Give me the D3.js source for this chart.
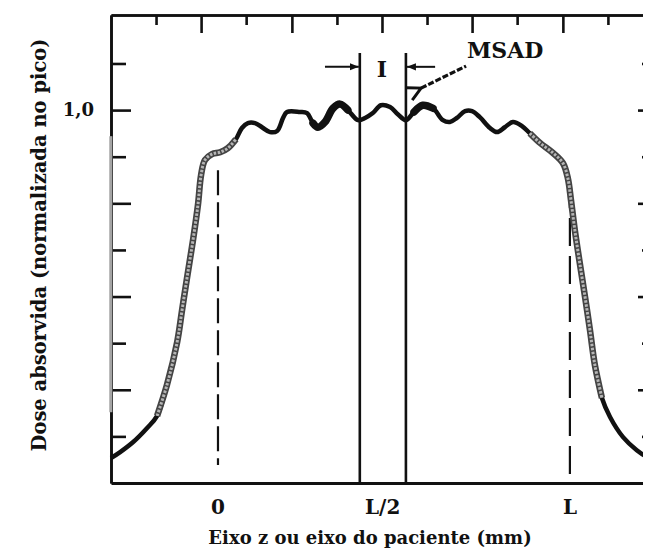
<!DOCTYPE html>
<html>
<head>
<meta charset="utf-8">
<script src="https://cdn.jsdelivr.net/npm/d3@7"></script>
<style>
  html, body { margin: 0; padding: 0; background: #fff; overflow: hidden; width: 647px; height: 549px; }
  svg { display: block; overflow: hidden; }
  text { font-family: "DejaVu Serif", "Liberation Serif", serif; font-weight: bold; fill: #111; }
</style>
</head>
<body>
<svg id="chart" width="647" height="549" viewBox="0 0 647 549"></svg>
<script>
// Position along the patient axis (0 = start of scan, 100 = L)
const posZ = [-30.4, -27.8, -24.1, -20.2, -17.3, -14.5, -11.6, -10.2, -8.8, -7.1,
  -5.7, -4.8, -3.7, -1.7, 0.6, 2.8, 5.1, 6.8, 8.5, 10.5,
  12.5, 14.8, 16.8, 18.5, 19.6, 23.3, 25.3, 27.0, 28.4, 30.4,
  32.7, 34.7, 36.9, 39.8, 41.8, 44.0, 46.3, 48.9, 51.1, 53.4,
  55.7, 58.2, 61.1, 63.9, 65.9, 67.9, 70.2, 72.2, 74.4, 77.3,
  79.3, 81.5, 83.8, 86.4, 88.6, 91.5, 95.2, 98.0, 99.4, 100.3,
  101.4, 102.8, 104.3, 105.7, 107.1, 109.1, 111.4, 115.1, 119.0, 121.9, 125.6];
// Absorbed dose normalised to the peak
const dose = [0.067, 0.083, 0.110, 0.147, 0.180, 0.263, 0.378, 0.464, 0.550, 0.651,
  0.745, 0.826, 0.866, 0.882, 0.887, 0.898, 0.922, 0.952, 0.965, 0.965,
  0.954, 0.941, 0.944, 0.979, 0.995, 0.995, 0.992, 0.965, 0.954, 0.968,
  1.005, 1.016, 1.000, 0.973, 0.979, 0.992, 1.013, 1.008, 0.989, 0.973,
  0.995, 1.013, 1.005, 0.973, 0.968, 0.979, 0.997, 0.997, 0.981, 0.952,
  0.941, 0.954, 0.968, 0.957, 0.938, 0.912, 0.885, 0.858, 0.818, 0.759,
  0.678, 0.590, 0.499, 0.410, 0.316, 0.228, 0.177, 0.123, 0.088, 0.070, 0.059];

// Axis ticks
const doseMajorTicks = [1.0, 0.75, 0.5, 0.25];
const doseMinorTicks = [1.125, 0.875, 0.625, 0.375, 0.125];
const zMajorTicks = [-4.8, 21.0, 46.6, 72.2, 98.0];
const zMinorTicks = [-17.6, 8.0, 33.8, 59.4, 85.0, 110.8];
const zTickValues = [0, 46.8, 100];
const zTickLabels = ["0", "L/2", "L"];
const doseTickValues = [1.0];
const doseTickLabels = ["1,0"];

// Annotations: interval I around L/2 and the MSAD pointer
const intervalEdges = [40.3, 53.4];
const scanLimits = [0, 100];
const heavyStretches = [[26, 37.5], [55, 62]];
const fadedStretches = [[-17.4, 5.5], [88.3, 109.5]];

const W = 647, H = 549;
const svg = d3.select("#chart");
const x = d3.scaleLinear().domain([-30.4, 125.6]).range([111, 660]);
const y = d3.scaleLinear().domain([0, 1.255]).range([483, 15]);

const defs = svg.append("defs");
defs.append("clipPath").attr("id", "page")
  .append("rect").attr("x", 0).attr("y", 0).attr("width", W).attr("height", H);
defs.append("marker").attr("id", "headFill")
  .attr("viewBox", "0 0 10 10").attr("refX", 10).attr("refY", 5)
  .attr("markerWidth", 9).attr("markerHeight", 9).attr("markerUnits", "userSpaceOnUse")
  .attr("orient", "auto")
  .append("path").attr("d", "M0,1 L10,5 L0,9 Z").attr("fill", "#111");
defs.append("marker").attr("id", "headOpen")
  .attr("viewBox", "0 0 14 14").attr("refX", 1.5).attr("refY", 7)
  .attr("markerWidth", 16).attr("markerHeight", 16).attr("markerUnits", "userSpaceOnUse")
  .attr("orient", "auto-start-reverse")
  .append("path").attr("d", "M13,1 L1.5,7 L13,13").attr("fill", "none")
  .attr("stroke", "#111").attr("stroke-width", 2.6);

const root = svg.append("g").attr("clip-path", "url(#page)");

// Frame: axes with inward ticks
function styleAxis(g, w) {
  g.select(".domain").attr("stroke", "#111").attr("stroke-width", w);
  g.selectAll(".tick line").attr("stroke", "#111").attr("stroke-width", 2.6);
  g.selectAll(".tick text").remove();
}
const [x0, x1] = x.range();
const [yb, yt] = y.range();

root.append("g").attr("transform", `translate(${x0},0)`)
  .call(d3.axisRight(y).tickValues(doseMajorTicks).tickSizeInner(20).tickSizeOuter(0).tickFormat(""))
  .call(styleAxis, 2.6);
root.append("g").attr("transform", `translate(${x0},0)`)
  .call(d3.axisRight(y).tickValues(doseMinorTicks).tickSizeInner(15).tickSizeOuter(0).tickFormat(""))
  .call(styleAxis, 2.6);
root.append("g").attr("transform", `translate(${x1},0)`)
  .call(d3.axisLeft(y).tickValues(doseMajorTicks).tickSizeInner(22).tickSizeOuter(0).tickFormat(""))
  .call(styleAxis, 2.6);
root.append("g").attr("transform", `translate(${x1},0)`)
  .call(d3.axisLeft(y).tickValues(doseMinorTicks).tickSizeInner(18).tickSizeOuter(0).tickFormat(""))
  .call(styleAxis, 2.6);
root.append("g").attr("transform", `translate(0,${yt})`)
  .call(d3.axisBottom(x).tickValues(zMajorTicks).tickSizeInner(18).tickSizeOuter(0).tickFormat(""))
  .call(styleAxis, 2.6);
root.append("g").attr("transform", `translate(0,${yt})`)
  .call(d3.axisBottom(x).tickValues(zMinorTicks).tickSizeInner(10).tickSizeOuter(0).tickFormat(""))
  .call(styleAxis, 2.6);
root.append("g").attr("transform", `translate(0,${yb})`)
  .call(d3.axisBottom(x).tickValues([]).tickSizeOuter(0))
  .call(styleAxis, 3);

// faded middle stretch of the left axis
root.append("line").attr("x1", x0).attr("x2", x0).attr("y1", y(0.93)).attr("y2", y(0.19))
  .attr("stroke", "#7a7a7a").attr("stroke-width", 3);
root.append("line").attr("x1", x0).attr("x2", x0).attr("y1", y(0.93)).attr("y2", y(0.19))
  .attr("stroke", "#cfcfcf").attr("stroke-width", 1);

// Tick labels
root.append("g").selectAll("text").data(zTickValues).join("text")
  .attr("x", d => x(d)).attr("y", 514).attr("text-anchor", "middle")
  .attr("font-size", 20).text((d, i) => zTickLabels[i]);
root.append("g").selectAll("text").data(doseTickValues).join("text")
  .attr("x", 94).attr("y", d => y(d) + 6).attr("text-anchor", "end")
  .attr("font-size", 18).text((d, i) => doseTickLabels[i]);

// Axis titles
root.append("text").attr("x", 370).attr("y", 544).attr("text-anchor", "middle")
  .attr("font-size", 18).text("Eixo z ou eixo do paciente (mm)");
root.append("text").attr("transform", "translate(46,245) rotate(-90)")
  .attr("text-anchor", "middle").attr("font-size", 19.5)
  .text("Dose absorvida (normalizada no pico)");

// Scan limits (dashed)
root.append("line").attr("x1", x(scanLimits[0])).attr("x2", x(scanLimits[0]))
  .attr("y1", y(0.839)).attr("y2", y(0.048))
  .attr("stroke", "#111").attr("stroke-width", 2.2).attr("stroke-dasharray", "25,7");
root.append("line").attr("x1", x(scanLimits[1])).attr("x2", x(scanLimits[1]))
  .attr("y1", y(0.8125)).attr("y2", y(0))
  .attr("stroke", "#111").attr("stroke-width", 2.2).attr("stroke-dasharray", "28,10");

// Interval I boundaries
root.append("g").selectAll("line").data(intervalEdges).join("line")
  .attr("x1", d => x(d)).attr("x2", d => x(d))
  .attr("y1", y(1.153)).attr("y2", y(0))
  .attr("stroke", "#111").attr("stroke-width", 2.6);

// Dose profile
const pts = posZ.map((z, i) => ({ z, d: dose[i] }));
const line = d3.line().x(p => x(p.z)).y(p => y(p.d)).curve(d3.curveCatmullRom.alpha(0.5));
root.append("path").datum(pts).attr("d", line)
  .attr("fill", "none").attr("stroke", "#111").attr("stroke-width", 4.5)
  .attr("stroke-linejoin", "round");
heavyStretches.forEach(([a, b]) => {
  root.append("path").datum(pts.filter(p => p.z >= a && p.z <= b)).attr("d", line)
    .attr("fill", "none").attr("stroke", "#111").attr("stroke-width", 7.5)
    .attr("stroke-linecap", "round");
});
fadedStretches.forEach(([a, b]) => {
  const seg = pts.filter(p => p.z >= a && p.z <= b);
  root.append("path").datum(seg).attr("d", line)
    .attr("fill", "none").attr("stroke", "#444").attr("stroke-width", 6.5);
  root.append("path").datum(seg).attr("d", line)
    .attr("fill", "none").attr("stroke", "#b5b5b5").attr("stroke-width", 3)
    .attr("stroke-dasharray", "2.5,1.5");
});

// Arrows marking interval I
const arrowY = y(1.116);
root.append("line").attr("x1", x(30.4)).attr("x2", x(intervalEdges[0]) - 1)
  .attr("y1", arrowY).attr("y2", arrowY)
  .attr("stroke", "#111").attr("stroke-width", 2).attr("marker-end", "url(#headFill)");
root.append("line").attr("x1", x(61.7)).attr("x2", x(intervalEdges[1]) + 1)
  .attr("y1", arrowY).attr("y2", arrowY)
  .attr("stroke", "#111").attr("stroke-width", 2).attr("marker-end", "url(#headFill)");
root.append("text").attr("x", x(46.6)).attr("y", 77).attr("text-anchor", "middle")
  .attr("font-size", 22).text("I");

// MSAD pointer
root.append("line").attr("x1", x(57.7)).attr("y1", y(1.059))
  .attr("x2", x(70.5)).attr("y2", y(1.118))
  .attr("stroke", "#111").attr("stroke-width", 3.2).attr("stroke-dasharray", "6,2")
  .attr("marker-start", "url(#headOpen)");
root.append("text").attr("x", x(81.6)).attr("y", 58).attr("text-anchor", "middle")
  .attr("font-size", 22).text("MSAD");

// right margin strip
root.append("rect").attr("x", 643).attr("y", 0).attr("width", 4).attr("height", H).attr("fill", "#fff");
</script>
</body>
</html>
